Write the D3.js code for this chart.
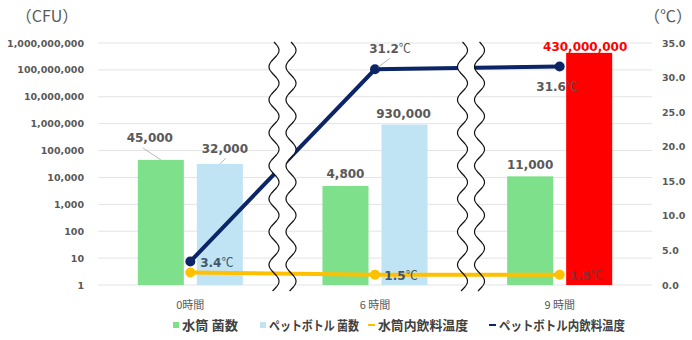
<!DOCTYPE html>
<html>
<head>
<meta charset="utf-8">
<script src="https://cdn.jsdelivr.net/npm/d3@7/dist/d3.min.js"></script>
<style>
  html, body { margin: 0; padding: 0; background: #fff; }
  svg { display: block; }
</style>
</head>
<body>
<svg id="chart" width="692" height="340"></svg>
<script>
// ---- data ----
const categories = ["0時間", "6 時間", "9 時間"];
const bottleCounts = [45000, 4800, 11000];          // 水筒 菌数 (CFU)
const petCounts = [32000, 930000, 430000000];       // ペットボトル 菌数 (CFU)
const bottleTemps = [1.8, 1.5, 1.5];                 // 水筒内飲料温度 (℃)
const petTemps = [3.4, 31.2, 31.6];                  // ペットボトル内飲料温度 (℃)
const leftTicks = [1, 10, 100, 1000, 10000, 100000, 1000000, 10000000, 100000000, 1000000000];
const rightTicks = [0, 5, 10, 15, 20, 25, 30, 35];
const seriesNames = ["水筒 菌数", "ペットボトル 菌数", "水筒内飲料温度", "ペットボトル内飲料温度"];

// ---- styling ----
const C = {
  green: "#7fe08b",
  blue: "#c1e4f5",
  red: "#ff0000",
  navy: "#0b2566",
  yellow: "#ffc000",
  grid: "#e3e3e3",
  text: "#595959",
  slate: "#44546a"
};
const NUM_FONT = "'DejaVu Sans', Verdana, sans-serif";
const JP_FONT = "'Noto Sans CJK JP', 'Noto Sans', sans-serif";

const svg = d3.select("#chart");
const plot = { left: 98, right: 652, top: 43, bottom: 285 };

const x = d3.scaleBand().domain(categories).range([plot.left, plot.right]);
const inner = d3.scaleBand().domain([0, 1])
  .range([39.8, x.bandwidth() - 39.8]).paddingInner(0.22);
const yL = d3.scaleLog().domain([1, 1e9]).range([plot.bottom, plot.top]);
const yR = d3.scaleLinear().domain([0, 35]).range([plot.bottom, plot.top]);
const cx = c => x(c) + x.bandwidth() / 2;
const fmt = d3.format(",");

// gridlines
svg.append("g").selectAll("line").data(leftTicks).join("line")
  .attr("x1", plot.left).attr("x2", plot.right)
  .attr("y1", d => yL(d)).attr("y2", d => yL(d))
  .attr("stroke", C.grid).attr("stroke-width", 1);

// left axis
const axL = svg.append("g").attr("transform", `translate(${plot.left - 14},0)`)
  .call(d3.axisLeft(yL).tickValues(leftTicks).tickFormat(fmt).tickSize(0).tickPadding(0));
axL.select(".domain").remove();
axL.selectAll("text").attr("fill", C.text).attr("font-family", NUM_FONT)
  .attr("font-weight", "bold").attr("font-size", 9.5);

// right axis
const axR = svg.append("g").attr("transform", `translate(${plot.right + 10},0)`)
  .call(d3.axisRight(yR).tickValues(rightTicks).tickFormat(d3.format(".1f")).tickSize(0).tickPadding(0));
axR.select(".domain").remove();
axR.selectAll("text").attr("fill", C.text).attr("font-family", NUM_FONT)
  .attr("font-weight", "bold").attr("font-size", 9.5);

// axis titles
svg.append("text").attr("x", 47).attr("y", 22).attr("text-anchor", "middle")
  .attr("font-family", JP_FONT).attr("font-size", 16).attr("fill", C.text).text("（CFU）");
svg.append("text").attr("x", 668).attr("y", 22).attr("text-anchor", "middle")
  .attr("font-family", JP_FONT).attr("font-size", 16).attr("fill", C.text).text("（℃）");

// category labels
svg.append("g").selectAll("text").data(categories).join("text")
  .attr("x", d => cx(d)).attr("y", 309).attr("text-anchor", "middle")
  .attr("font-family", JP_FONT).attr("font-size", 11).attr("fill", C.text).text(d => d);

// bars
const bars = [];
categories.forEach((c, i) => {
  bars.push({ c, i, s: 0, v: bottleCounts[i], color: C.green });
  bars.push({ c, i, s: 1, v: petCounts[i], color: i === 2 ? C.red : C.blue });
});
svg.append("g").selectAll("rect").data(bars).join("rect")
  .attr("x", d => x(d.c) + inner(d.s))
  .attr("width", inner.bandwidth())
  .attr("y", d => yL(d.v))
  .attr("height", d => plot.bottom - yL(d.v))
  .attr("fill", d => d.color);

// pet bottle temperature line (drawn beneath the axis breaks)
const line = d3.line().x(d => cx(d.c)).y(d => yR(d.v));
const petPts = categories.map((c, i) => ({ c, v: petTemps[i] }));
const bottlePts = categories.map((c, i) => ({ c, v: bottleTemps[i] }));
svg.append("path").datum(petPts).attr("d", line)
  .attr("fill", "none").attr("stroke", C.navy).attr("stroke-width", 4);

// axis break bands: white fill between two wavy lines
const breaks = [282.5, 471];
const W = 8.5, AMP = 5, PER = 33, B0 = 42, B1 = 291;
function wave(center) {
  const pts = [];
  for (let y = B0; y <= B1; y += 1) pts.push([center + AMP * Math.sin(2 * Math.PI * (y - B0) / PER), y]);
  return pts;
}
breaks.forEach(b => {
  const l = wave(b - W), r = wave(b + W);
  svg.append("path").attr("d", d3.line()(l.concat(r.slice().reverse())) + "Z")
    .attr("fill", "#fff").attr("stroke", "none");
});

// water bottle temperature line (runs across the breaks)
svg.append("path").datum(bottlePts).attr("d", line)
  .attr("fill", "none").attr("stroke", C.yellow).attr("stroke-width", 4);

// wavy break strokes
breaks.forEach(b => {
  [b - W, b + W].forEach(c => {
    svg.append("path").attr("d", d3.line()(wave(c)))
      .attr("fill", "none").attr("stroke", "#111").attr("stroke-width", 1.2);
  });
});

// markers
svg.append("g").selectAll("circle").data(petPts).join("circle")
  .attr("cx", d => cx(d.c)).attr("cy", d => yR(d.v)).attr("r", 5).attr("fill", C.navy);
svg.append("g").selectAll("circle").data(bottlePts).join("circle")
  .attr("cx", d => cx(d.c)).attr("cy", d => yR(d.v)).attr("r", 5).attr("fill", C.yellow);

// bar value labels
const barLabelPos = [
  { dx: -11, dy: -22, leader: true }, { dx: 5, dy: -15.5, leader: true },
  { dx: 0, dy: -12 }, { dx: -1, dy: -11 },
  { dx: 0, dy: -12 }, { dx: -4, dy: -6.5 }
];
const lblG = svg.append("g").attr("font-family", NUM_FONT).attr("font-weight", "bold").attr("font-size", 12);
bars.forEach((d, k) => {
  const p = barLabelPos[k];
  const bx = x(d.c) + inner(d.s) + inner.bandwidth() / 2, by = yL(d.v);
  const lx = bx + p.dx, ly = by + p.dy;
  if (p.leader) {
    lblG.append("line").attr("x1", lx + (p.dx < 0 ? -7 : 1)).attr("y1", ly + 10)
      .attr("x2", bx).attr("y2", by).attr("stroke", "#a6a6a6").attr("stroke-width", 0.8);
  }
  lblG.append("text").attr("x", lx).attr("y", ly).attr("dy", "0.36em")
    .attr("text-anchor", "middle").attr("fill", d.color === C.red ? C.red : C.text)
    .text(fmt(d.v));
});

// temperature labels
const tempLabels = [
  { pts: petPts, i: 0, dx: 26.5, dy: 1, fill: C.slate },
  { pts: petPts, i: 1, dx: 15, dy: -21, fill: C.text, leader: true },
  { pts: petPts, i: 2, dx: -2.5, dy: 20.5, fill: C.text },
  { pts: bottlePts, i: 1, dx: 26, dy: 1, fill: C.slate },
  { pts: bottlePts, i: 2, dx: 26.5, dy: 1, fill: "#8e2c33" }
];
tempLabels.forEach(t => {
  const d = t.pts[t.i];
  const px = cx(d.c), py = yR(d.v);
  if (t.leader) {
    lblG.append("line").attr("x1", px + 3).attr("y1", py - 2).attr("x2", px + t.dx).attr("y2", py + t.dy + 10)
      .attr("stroke", "#a6a6a6").attr("stroke-width", 0.8);
  }
  const txt = lblG.append("text").attr("x", px + t.dx).attr("y", py + t.dy).attr("dy", "0.36em")
    .attr("text-anchor", "middle").attr("fill", t.fill);
  txt.append("tspan").text(d.v.toFixed(1));
  txt.append("tspan").attr("font-family", JP_FONT).attr("font-weight", "normal").text("℃");
});

// legend
const legend = [
  { name: seriesNames[0], color: C.green, kind: "box", x: 173, len: 56 },
  { name: seriesNames[1], color: C.blue, kind: "box", x: 260, len: 90 },
  { name: seriesNames[2], color: C.yellow, kind: "dash", x: 368, len: 90 },
  { name: seriesNames[3], color: C.navy, kind: "dash", x: 489, len: 126 }
];
const lg = svg.append("g");
legend.forEach(l => {
  if (l.kind === "box") {
    lg.append("rect").attr("x", l.x).attr("y", 322).attr("width", 6).attr("height", 6).attr("fill", l.color);
  } else {
    lg.append("line").attr("x1", l.x).attr("x2", l.x + 7).attr("y1", 325).attr("y2", 325)
      .attr("stroke", l.color).attr("stroke-width", 2);
  }
  lg.append("text").attr("x", l.x + (l.kind === "box" ? 9 : 10)).attr("y", 325).attr("dy", "0.36em")
    .attr("font-family", JP_FONT).attr("font-weight", "bold").attr("font-size", 13)
    .attr("fill", "#404040").attr("textLength", l.len).attr("lengthAdjust", "spacingAndGlyphs")
    .text(l.name);
});
</script>
</body>
</html>
